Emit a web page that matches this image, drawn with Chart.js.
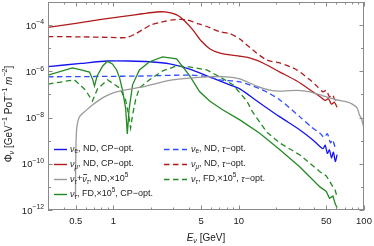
<!DOCTYPE html>
<html>
<head>
<meta charset="utf-8">
<script src="https://cdn.jsdelivr.net/npm/chart.js@4.4.1/dist/chart.umd.min.js"></script>
<style>
  html, body { margin: 0; padding: 0; background: #fff; }
  #wrap { width: 374px; height: 246px; position: relative; }
</style>
</head>
<body>
<div id="wrap"><canvas id="myChart"></canvas></div>
<script>
// energies in GeV, fluxes in GeV^-1 PoT^-1 m^-2
const numuCP_E = [0.3, 0.5, 0.8, 1.2, 1.7, 2.2, 2.6, 3.2, 3.7, 4.3, 5, 5.9, 7, 8.5, 10.2, 12.2, 15.6, 21.3, 29.1, 39.1, 45, 49, 52, 55, 58, 61];
const numuCP = [7.9e-5, 1.2e-4, 1.78e-4, 2.4e-4, 3.1e-4, 3.7e-4, 3.7e-4, 2.75e-4, 1.5e-4, 6.2e-5, 2.1e-5, 9.3e-6, 6.3e-6, 5.1e-6, 4.5e-6, 3.8e-6, 2.3e-6, 9.3e-7, 3.8e-7, 1.3e-7, 7.8e-8, 5.5e-8, 6.5e-8, 3.8e-8, 4.6e-8, 2.8e-8];

const numuTau_E = [0.3, 0.55, 0.9, 1.27, 1.5, 1.75, 2.0, 2.33, 2.96, 3.84, 4.8, 5.55, 7.05, 8.47, 10.2, 12.9, 16.7, 21.3, 25.6, 29.1, 37, 42, 47, 50, 53, 56, 58.5, 61];
const numuTau = [3.2e-5, 3.1e-5, 2.95e-5, 2.9e-5, 4.2e-5, 6.9e-5, 1.03e-4, 1.3e-4, 1.7e-4, 1.7e-4, 1.12e-4, 8.7e-5, 5.2e-5, 4.3e-5, 2.5e-5, 8.5e-6, 3.1e-6, 2.3e-6, 1.6e-6, 1.15e-6, 4.3e-7, 2.3e-7, 1.3e-7, 1.5e-7, 8e-8, 9.5e-8, 6e-8, 5.5e-8];

const nueCP_E = [0.3, 0.55, 0.9, 1.34, 1.94, 2.81, 4.06, 5.86, 8.47, 10.2, 14.7, 21.3, 30.8, 39.1, 44, 47, 49, 51, 53, 55, 57, 59, 61];
const nueCP = [1.6e-6, 2.2e-6, 2.8e-6, 2.8e-6, 2.6e-6, 2.1e-6, 1.25e-6, 5.7e-7, 2.6e-7, 1.75e-7, 4.3e-8, 1.07e-8, 2.9e-9, 1.07e-9, 5.9e-10, 4.5e-10, 6.3e-10, 2.8e-10, 4e-10, 1.8e-10, 3.2e-10, 1.26e-10, 2.5e-10];

const nueTau_E = [0.3, 0.77, 1.77, 4.06, 5.55, 7.05, 10.2, 15.6, 21.3, 30.8, 38, 44.5, 48, 51, 54, 56, 58.6];
const nueTau = [5.8e-7, 6.0e-7, 6.3e-7, 6.9e-7, 5.9e-7, 4.3e-7, 3.5e-7, 1.55e-7, 5.8e-8, 1.07e-8, 3.9e-9, 2.1e-9, 1.4e-9, 2e-9, 8e-10, 1.1e-9, 5.5e-10];

const nutauND_E = [0.497, 0.499, 0.503, 0.51, 0.535, 0.608, 0.679, 0.817, 0.982, 1.12, 1.61, 2.96, 5.55, 8.0, 10.2, 13.9, 17.7, 22.5, 29.1, 37, 47, 60.8, 73, 80, 88, 92, 95, 100];
const nutauND = [3.6e-12, 8.9e-11, 1.07e-9, 3.9e-9, 1.07e-8, 2.1e-8, 3.5e-8, 7.1e-8, 1.15e-7, 1.4e-7, 2.0e-7, 4.3e-7, 5.8e-7, 5.8e-7, 4.7e-7, 2.3e-7, 1.55e-7, 1.4e-7, 1.5e-7, 1.3e-7, 8.7e-8, 5.8e-8, 4.8e-8, 3.9e-8, 2.6e-8, 1.3e-8, 9.5e-9, 3.5e-9];

const nutauFDcp_E = [0.3, 0.47, 0.55, 0.643, 0.68, 0.705, 0.74, 0.82, 0.895, 0.98, 1.06, 1.12, 1.18, 1.25, 1.29, 1.33, 1.42, 1.61, 1.94, 2.47, 3.19, 4.06, 4.88, 5.86, 7.31, 10.2, 14.7, 21.3, 30.8, 44.5, 50, 53, 56.5, 59, 61];
const nutauFDcp = [6.9e-7, 1.4e-6, 1.15e-6, 9.3e-7, 4.7e-7, 2.3e-7, 6.3e-7, 1.7e-6, 2.7e-6, 2.1e-6, 1.15e-6, 5.1e-7, 1.55e-7, 2.5e-8, 1.95e-9, 2.1e-8, 2.6e-7, 1.15e-6, 2.6e-6, 4.2e-6, 3.5e-6, 6.3e-7, 1.3e-7, 5.2e-8, 2.3e-8, 7.9e-9, 2.1e-9, 4e-10, 7.2e-11, 1e-11, 6.3e-12, 3.2e-12, 4e-12, 1.8e-12, 1.26e-12];

const nutauFDtau_E = [0.3, 0.488, 0.597, 0.679, 0.745, 0.895, 1.12, 1.25, 1.32, 1.37, 1.42, 1.5, 1.61, 1.94, 2.47, 3.19, 4.06, 5.55, 7.05, 9.0, 11.6, 12.9, 16.7, 21.3, 30.8, 44.5, 50, 53, 56.5, 59, 61];
const nutauFDtau = [2.8e-7, 4.3e-7, 1.55e-7, 5.2e-8, 1.74e-7, 4.3e-7, 1.9e-7, 5.8e-8, 1.3e-8, 3.5e-9, 1.3e-8, 5.8e-8, 1.9e-7, 4.3e-7, 1.05e-6, 1.7e-6, 1.55e-6, 1.15e-6, 5.8e-7, 2.6e-7, 5.2e-8, 1.74e-8, 2.4e-9, 7.9e-10, 2.4e-10, 4.5e-11, 3e-11, 1.8e-11, 1e-11, 7e-12, 3.6e-12];

const xTickLabels = [0.5, 1, 5, 10, 50, 100];
const yTickLabels = [1e-12, 1e-10, 1e-8, 1e-6, 1e-4];

const FONT = '"Liberation Sans", Arial, sans-serif';
const BLUE = '#1414f0', BLUE2 = '#2e4bff', RED = '#b01a1a', GRAY = '#9a9a9a', GREEN = '#238a23';
const DASH = [5.5, 3.5];

function pairs(xs, ys) {
  return xs.map((x, i) => ({ x: x, y: ys[i] }));
}

// draws text with sub/superscripts, italics and overbars
function rich(ctx, x, y, segs, size, align) {
  const fontOf = (s) => (s.it ? 'italic ' : '') + ((s.sub || s.sup) ? size * 0.72 : size) + 'px ' + FONT;
  let w = 0;
  segs.forEach(s => { ctx.font = fontOf(s); w += ctx.measureText(s.t).width; });
  let cx = align === 'center' ? x - w / 2 : (align === 'right' ? x - w : x);
  ctx.textBaseline = 'middle';
  ctx.textAlign = 'left';
  segs.forEach(s => {
    ctx.font = fontOf(s);
    let dy = s.sub ? size * 0.3 : (s.sup ? -size * 0.38 : 0);
    ctx.fillText(s.t, cx, y + dy);
    const sw = ctx.measureText(s.t).width;
    if (s.bar) {
      ctx.save();
      ctx.strokeStyle = ctx.fillStyle;
      ctx.lineWidth = 0.8;
      ctx.beginPath();
      ctx.moveTo(cx + 1, y + dy - size * 0.5);
      ctx.lineTo(cx + sw + 0.5, y + dy - size * 0.5);
      ctx.stroke();
      ctx.restore();
    }
    cx += sw;
  });
}

const nu = { t: 'ν', it: true };
const legendItems = [
  { col: 0, row: 0, color: BLUE, dash: [], segs: [nu, { t: 'e', sub: true }, { t: ', ND, CP−opt.' }] },
  { col: 0, row: 1, color: RED, dash: [], segs: [nu, { t: 'μ', sub: true, it: true }, { t: ', ND, CP−opt.' }] },
  { col: 0, row: 2, color: GRAY, dash: [], segs: [nu, { t: 'τ', sub: true, it: true }, { t: '+' }, { t: 'ν', it: true, bar: true }, { t: 'τ', sub: true, it: true }, { t: ', ND,×10' }, { t: '5', sup: true }] },
  { col: 0, row: 3, color: GREEN, dash: [], segs: [nu, { t: 'τ', sub: true, it: true }, { t: ', FD,×10' }, { t: '5', sup: true }, { t: ', CP−opt.' }] },
  { col: 1, row: 0, color: BLUE2, dash: DASH, segs: [nu, { t: 'e', sub: true }, { t: ', ND, ' }, { t: 'τ', it: true }, { t: '−opt.' }] },
  { col: 1, row: 1, color: RED, dash: DASH, segs: [nu, { t: 'μ', sub: true, it: true }, { t: ', ND, ' }, { t: 'τ', it: true }, { t: '−opt.' }] },
  { col: 1, row: 2, color: GREEN, dash: DASH, segs: [nu, { t: 'τ', sub: true, it: true }, { t: ', FD,×10' }, { t: '5', sup: true }, { t: ', ' }, { t: 'τ', it: true }, { t: '−opt.' }] },
];

const framePlugin = {
  id: 'frame',
  afterDraw(chart) {
    const ctx = chart.ctx;
    const a = chart.chartArea;
    const xs = chart.scales.x, ys = chart.scales.y;
    ctx.save();
    // frame
    ctx.strokeStyle = '#8a8a8a';
    ctx.lineWidth = 1;
    ctx.strokeRect(a.left + 0.5, a.top + 0.5, a.right - a.left - 1, a.bottom - a.top - 1);
    // x ticks (inward, top and bottom)
    ctx.beginPath();
    for (let d = -1; d <= 2; d++) {
      for (let m = 1; m <= 9; m++) {
        const v = m * Math.pow(10, d);
        if (v < 0.3 || v > 100) continue;
        const px = Math.round(xs.getPixelForValue(v)) + 0.5;
        const big = (m === 1 || m === 5) ? 4.5 : 2.5;
        ctx.moveTo(px, a.bottom); ctx.lineTo(px, a.bottom - big);
        ctx.moveTo(px, a.top); ctx.lineTo(px, a.top + big);
      }
    }
    // y ticks (inward, left and right)
    for (let e = -12; e <= -3; e++) {
      const py = Math.round(ys.getPixelForValue(Math.pow(10, e))) + 0.5;
      const big = (e % 2 === 0) ? 4.5 : 3;
      ctx.moveTo(a.left, py); ctx.lineTo(a.left + big, py);
      ctx.moveTo(a.right, py); ctx.lineTo(a.right - big, py);
    }
    ctx.stroke();

    ctx.fillStyle = '#222';
    // x tick labels
    xTickLabels.forEach(v => {
      rich(ctx, xs.getPixelForValue(v), a.bottom + 11, [{ t: String(v) }], 9.5, 'center');
    });
    // y tick labels
    yTickLabels.forEach(v => {
      const e = Math.round(Math.log10(v));
      rich(ctx, a.left - 4, ys.getPixelForValue(v) + 1, [{ t: '10' }, { t: '−' + Math.abs(e), sup: true }], 9.5, 'right');
    });
    // axis titles
    rich(ctx, (a.left + a.right) / 2, 238, [{ t: 'E', it: true }, { t: 'ν', sub: true, it: true }, { t: ' [GeV]' }], 10, 'center');
    ctx.save();
    ctx.translate(9, 114);
    ctx.rotate(-Math.PI / 2);
    rich(ctx, 0, 0, [{ t: 'Φ' }, { t: 'ν', sub: true, it: true }, { t: ' [GeV' }, { t: '−1', sup: true }, { t: ' PoT' }, { t: '−1', sup: true }, { t: ' ' }, { t: 'm', it: true }, { t: '−2', sup: true }, { t: ']' }], 10, 'center');
    ctx.restore();

    // legend
    const cols = [{ x0: 54, x1: 67, tx: 70 }, { x0: 164, x1: 187, tx: 191 }];
    const rows = [149, 164, 179, 194];
    legendItems.forEach(it => {
      const c = cols[it.col], y = rows[it.row];
      ctx.save();
      ctx.strokeStyle = it.color;
      ctx.lineWidth = 1.4;
      ctx.setLineDash(it.dash);
      ctx.beginPath();
      ctx.moveTo(c.x0, y + 0.5); ctx.lineTo(c.x1, y + 0.5);
      ctx.stroke();
      ctx.restore();
      ctx.fillStyle = '#222';
      rich(ctx, c.tx, y, it.segs, 9, 'left');
    });
    ctx.restore();
  }
};

function ds(label, xs, ys, color, dash, tension) {
  return {
    label: label,
    data: pairs(xs, ys),
    borderColor: color,
    backgroundColor: color,
    borderWidth: 1.3,
    borderDash: dash,
    pointRadius: 0,
    tension: tension,
    fill: false,
  };
}

const ctx = document.getElementById('myChart').getContext('2d');
const myChart = new Chart(ctx, {
  type: 'line',
  data: {
    datasets: [
      ds('nutau ND', nutauND_E, nutauND, GRAY, [], 0.25),
      ds('nutau FD tau-opt', nutauFDtau_E, nutauFDtau, GREEN, DASH, 0),
      ds('nutau FD CP-opt', nutauFDcp_E, nutauFDcp, GREEN, [], 0),
      ds('nue ND tau-opt', nueTau_E, nueTau, BLUE2, DASH, 0.25),
      ds('nue ND CP-opt', nueCP_E, nueCP, BLUE, [], 0.25),
      ds('numu ND tau-opt', numuTau_E, numuTau, RED, DASH, 0.25),
      ds('numu ND CP-opt', numuCP_E, numuCP, RED, [], 0.25),
    ],
  },
  options: {
    responsive: true,
    maintainAspectRatio: false,
    animation: false,
    devicePixelRatio: 1,
    layout: { padding: { left: 48, right: 10, top: 2, bottom: 36 } },
    plugins: {
      legend: { display: false },
      tooltip: { enabled: false },
    },
    scales: {
      x: { type: 'logarithmic', min: 0.3, max: 100, display: false },
      y: { type: 'logarithmic', min: 1e-12, max: 1e-3, display: false },
    },
  },
  plugins: [framePlugin],
});
</script>
</body>
</html>
